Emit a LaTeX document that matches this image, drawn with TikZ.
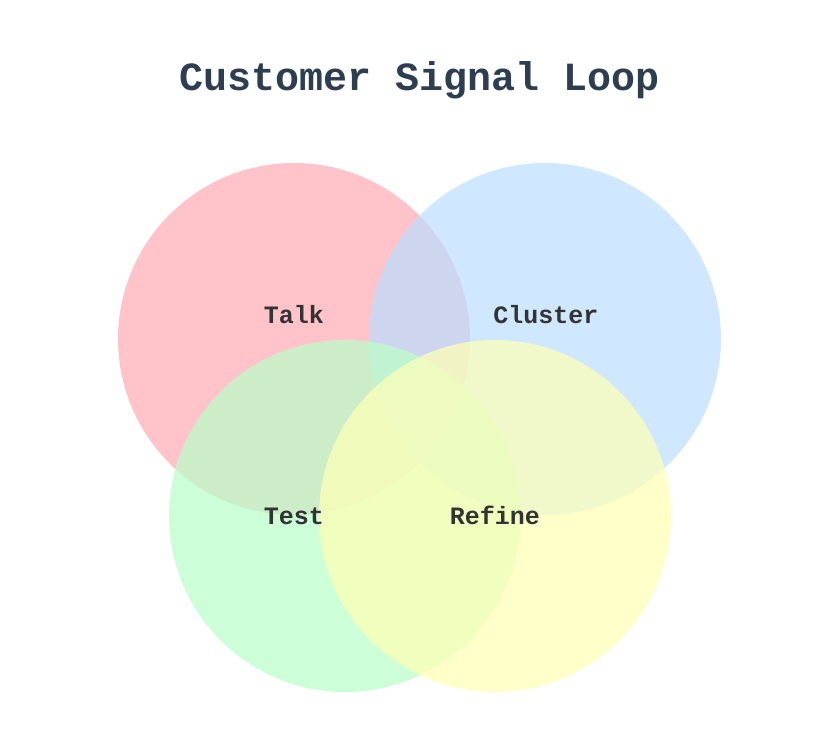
\documentclass[tikz,border=0pt]{standalone}
\usepackage{fontspec}
\setmonofont{Liberation Mono}
\usepackage{xcolor}
\usepackage{tikz}
\usetikzlibrary{positioning}
\definecolor{titleslate}{HTML}{2C3E50}
\definecolor{labelgray}{HTML}{333333}
\definecolor{talkpink}{RGB}{255,172,180}
\definecolor{clusterblue}{RGB}{188,222,255}
\definecolor{testgreen}{RGB}{185,255,199}
\definecolor{refineyellow}{RGB}{255,255,182}

\begin{document}
\begin{tikzpicture}[x=1pt, y=-1pt,
    setcircle/.style={circle, minimum size=352pt, inner sep=0pt, fill opacity=0.72, draw=none},
    setlabel/.style={font=\ttfamily\bfseries\fontsize{25}{25}\selectfont, text=labelgray, anchor=base},
    titletext/.style={font=\ttfamily\bfseries\fontsize{40}{40}\selectfont, text=titleslate, anchor=base}
]
    \useasboundingbox (0,0) rectangle (840,732);

    % Title
    \node (title) [titletext] at (420,90) {Customer Signal Loop};

    % Sets
    \node (talk) [setcircle, fill=talkpink] at (294,339) {};
    \node (cluster) [setcircle, fill=clusterblue] at (545,339) {};
    \node (test) [setcircle, fill=testgreen] at (345,516) {};
    \node (refine) [setcircle, fill=refineyellow] at (495,516) {};

    % Labels
    \node (talklabel) [setlabel] at (294,323) {Talk};
    \node (clusterlabel) [setlabel] at (546,323) {Cluster};
    \node (testlabel) [setlabel] at (294,524) {Test};
    \node (refinelabel) [setlabel] at (495,524) {Refine};
\end{tikzpicture}
\end{document}
